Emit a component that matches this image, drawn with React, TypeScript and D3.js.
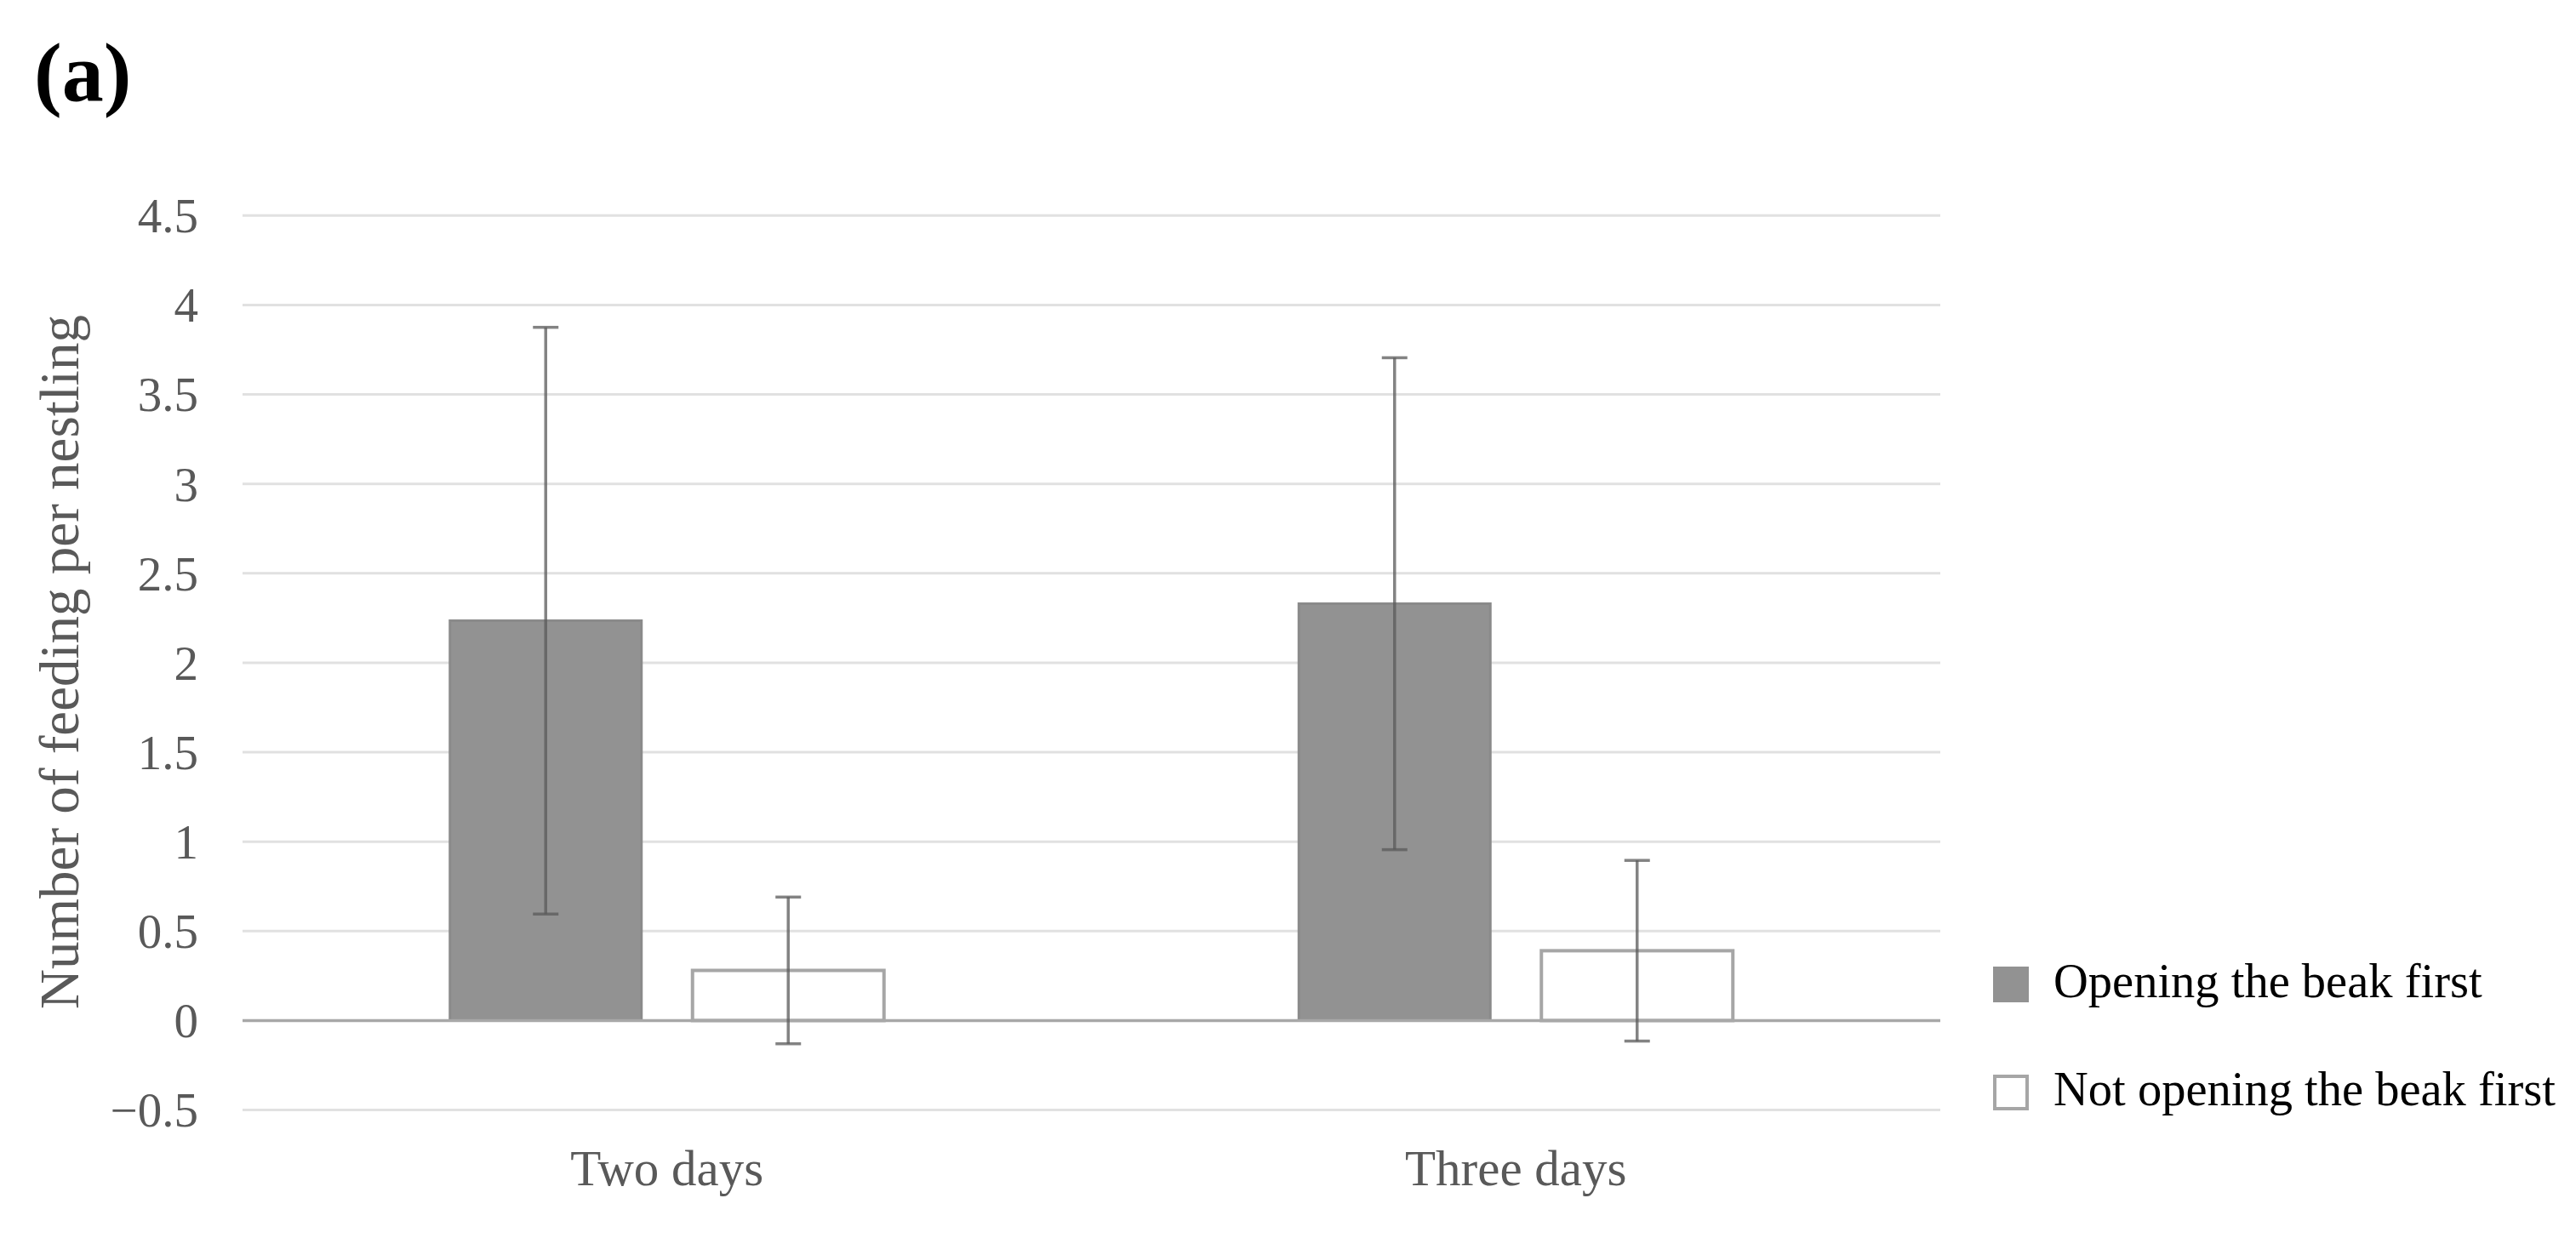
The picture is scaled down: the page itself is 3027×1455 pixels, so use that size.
import React from "react";
import * as d3 from "d3";

const categories = ["Two days", "Three days"];
const seriesNames = ["Opening the beak first", "Not opening the beak first"];
const openingValues = [2.235, 2.33];
const openingErrors = [1.64, 1.375];
const notOpeningValues = [0.28, 0.39];
const notOpeningErrors = [0.41, 0.505];
const yTickValues = [-0.5, 0, 0.5, 1, 1.5, 2, 2.5, 3, 3.5, 4, 4.5];
const yTitle = "Number of feeding per nestling";
const panelLabel = "(a)";

const W = 3027;
const H = 1455;
const FONT = "'Liberation Serif', 'Times New Roman', 'DejaVu Serif', serif";

export default function App() {
  const left = 285;
  const right = 2280;
  const y = d3.scaleLinear().domain([-0.5, 4.5]).range([1304.5, 253.3]);
  const x0 = d3.scaleBand<string>().domain(categories).range([left, right]).padding(0);
  const groupW = 510;
  const x1 = d3.scaleBand<string>().domain(seriesNames).range([0, groupW]).paddingInner(60 / 285).paddingOuter(0);

  const seriesData = [
    { name: seriesNames[0], values: openingValues, errors: openingErrors, fill: "#929292", stroke: "#8a8a8a", sw: 3 },
    { name: seriesNames[1], values: notOpeningValues, errors: notOpeningErrors, fill: "#ffffff", stroke: "#a6a6a6", sw: 4 },
  ];

  const fmt = (v: number) => (v < 0 ? "\u2212" + Math.abs(v) : String(v));

  return (
    <svg width={W} height={H} style={{ position: "absolute", left: 0, top: 0, background: "#fff" }} fontFamily={FONT}>
      <rect x={0} y={0} width={W} height={H} fill="#fff" />
      <text x={40} y={118} fontSize={98} fontWeight="bold" fill="#000">{panelLabel}</text>

      {/* gridlines */}
      {yTickValues.filter((v) => v !== 0).map((v) => (
        <line key={"g" + v} x1={left} x2={right} y1={y(v)} y2={y(v)} stroke="#e1e1e1" strokeWidth={3} />
      ))}

      {/* tick labels */}
      {yTickValues.map((v) => (
        <text key={"t" + v} x={233} y={y(v)} dy="0.35em" textAnchor="end" fontSize={57} fill="#595959">{fmt(v)}</text>
      ))}

      {/* bars */}
      {seriesData.map((s) =>
        categories.map((c, i) => {
          const gx = (x0(c) as number) + (x0.bandwidth() - groupW) / 2 + (x1(s.name) as number);
          const bw = x1.bandwidth();
          const v = s.values[i];
          return (
            <rect key={s.name + c} x={gx} y={y(v)} width={bw} height={y(0) - y(v)} fill={s.fill} stroke={s.stroke} strokeWidth={s.sw} />
          );
        })
      )}

      {/* baseline */}
      <line x1={left} x2={right} y1={y(0)} y2={y(0)} stroke="#a8a8a8" strokeWidth={3.5} />

      {/* error bars */}
      {seriesData.map((s) =>
        categories.map((c, i) => {
          const cx = (x0(c) as number) + (x0.bandwidth() - groupW) / 2 + (x1(s.name) as number) + x1.bandwidth() / 2;
          const v = s.values[i];
          const e = s.errors[i];
          const top = y(v + e);
          const bot = y(v - e);
          return (
            <g key={"e" + s.name + c} stroke="#595959" strokeOpacity={0.75} strokeWidth={3.5}>
              <line x1={cx} x2={cx} y1={top} y2={bot} />
              <line x1={cx - 15} x2={cx + 15} y1={top} y2={top} />
              <line x1={cx - 15} x2={cx + 15} y1={bot} y2={bot} />
            </g>
          );
        })
      )}

      {/* x labels */}
      {categories.map((c) => (
        <text key={"x" + c} x={(x0(c) as number) + x0.bandwidth() / 2} y={1393} textAnchor="middle" fontSize={59} fill="#595959">{c}</text>
      ))}

      {/* y title */}
      <text transform={`translate(92, 778) rotate(-90)`} textAnchor="middle" fontSize={65} fill="#595959">{yTitle}</text>

      {/* legend */}
      {seriesData.map((s, i) => {
        const cy = 1157 + i * 127;
        return (
          <g key={"l" + s.name}>
            <rect x={2344} y={cy - 19} width={38} height={38} fill={s.fill} stroke={s.name === seriesNames[0] ? s.fill : s.stroke} strokeWidth={4} />
            <text x={2413} y={cy + 15} fontSize={56.5} fill="#000">{s.name}</text>
          </g>
        );
      })}
    </svg>
  );
}
